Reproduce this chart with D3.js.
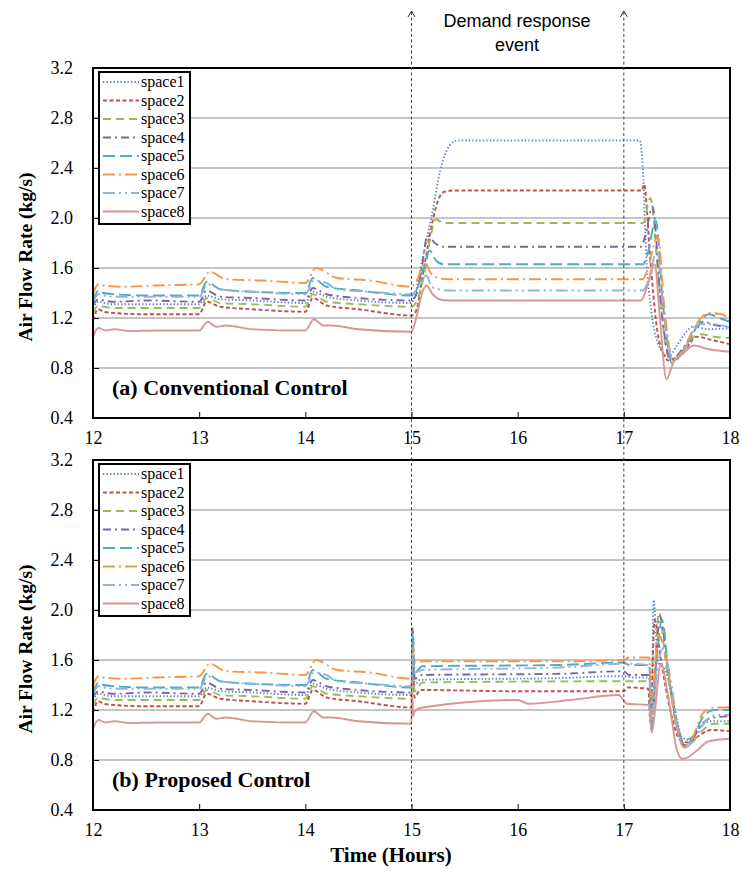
<!DOCTYPE html>
<html><head><meta charset="utf-8">
<script src="https://cdn.jsdelivr.net/npm/d3@7/dist/d3.min.js"></script>
<style>body{margin:0;background:#fff}svg{display:block}</style>
</head><body>
<svg id="c" width="742" height="872"></svg>
<script>
const spaces = ["space1","space2","space3","space4","space5","space6","space7","space8"];
const colors = ["#4F81BD","#C0504D","#9BBB59","#8064A2","#4BACC6","#F79646","#95B3D7","#D99694"];
const dashes = ["1.3,2.2","4,2.5","8,5","8,4,2,4","12,5","12,4,2,4","12,4,2,4,2,4",null];
const xTicks = [12,13,14,15,16,17,18];
const yTicks = [0.4,0.8,1.2,1.6,2.0,2.4,2.8,3.2];
const drStart = 15, drEnd = 17;

// Shared profile 12:00-15:00 (same in both panels) [time, kg/s]
const baseline = [
 [[12,1.28],[12.05,1.33],[12.1,1.32],[12.2,1.31],[12.5,1.31],[13,1.31],[13.07,1.38],[13.2,1.35],[13.5,1.34],[14,1.32],[14.07,1.41],[14.2,1.37],[14.5,1.34],[15,1.32]],
 [[12,1.18],[12.05,1.27],[12.1,1.25],[12.2,1.24],[12.5,1.23],[13,1.23],[13.07,1.33],[13.2,1.29],[13.5,1.27],[14,1.25],[14.07,1.36],[14.2,1.3],[14.5,1.27],[15,1.22]],
 [[12,1.24],[12.05,1.3],[12.1,1.29],[12.2,1.28],[12.5,1.28],[13,1.28],[13.07,1.36],[13.2,1.32],[13.5,1.31],[14,1.29],[14.07,1.39],[14.2,1.33],[14.5,1.31],[15,1.29]],
 [[12,1.3],[12.05,1.35],[12.1,1.34],[12.2,1.33],[12.5,1.34],[13,1.33],[13.07,1.42],[13.2,1.37],[13.5,1.36],[14,1.34],[14.07,1.44],[14.2,1.39],[14.5,1.36],[15,1.34]],
 [[12,1.33],[12.05,1.42],[12.1,1.4],[12.2,1.39],[12.5,1.38],[13,1.38],[13.07,1.49],[13.2,1.43],[13.5,1.41],[14,1.4],[14.07,1.52],[14.2,1.45],[14.5,1.42],[15,1.38]],
 [[12,1.39],[12.05,1.47],[12.1,1.46],[12.3,1.45],[12.6,1.46],[13,1.47],[13.1,1.57],[13.25,1.51],[13.6,1.5],[14,1.48],[14.1,1.6],[14.3,1.52],[14.6,1.5],[15,1.45]],
 [[12,1.32],[12.05,1.39],[12.1,1.38],[12.2,1.37],[12.5,1.37],[13,1.37],[13.08,1.47],[13.2,1.43],[13.5,1.41],[14,1.39],[14.08,1.5],[14.2,1.48],[14.3,1.43],[14.6,1.41],[15,1.39]],
 [[12,1.05],[12.05,1.12],[12.12,1.1],[12.2,1.11],[12.35,1.095],[12.6,1.1],[13,1.1],[13.08,1.17],[13.16,1.13],[13.25,1.14],[13.5,1.11],[14,1.1],[14.08,1.19],[14.17,1.14],[14.25,1.14],[14.5,1.11],[15,1.09]]
];

// (a) Conventional control, 15:00-18:00
const conventional = [
 [[15.03,1.38],[15.1,1.66],[15.2,2.06],[15.27,2.38],[15.36,2.58],[15.43,2.62],[17.15,2.62],[17.18,2.38],[17.21,1.72],[17.26,1.25],[17.33,0.98],[17.42,0.89],[17.5,0.98],[17.58,1.08],[17.65,1.13],[17.8,1.11],[18,1.12]],
 [[15.04,1.25],[15.12,1.61],[15.2,1.98],[15.25,2.14],[15.31,2.21],[15.4,2.22],[17.17,2.22],[17.19,2.27],[17.25,1.66],[17.31,1.13],[17.38,0.9],[17.42,0.86],[17.5,0.89],[17.6,0.97],[17.68,1.05],[17.85,1.02],[18,0.99]],
 [[15.04,1.32],[15.12,1.55],[15.18,1.85],[15.23,1.99],[15.3,1.96],[17.18,1.96],[17.25,2.16],[17.33,1.48],[17.39,1.0],[17.44,0.86],[17.52,0.9],[17.62,1.02],[17.72,1.07],[17.85,1.05],[18,1.04]],
 [[15.05,1.4],[15.1,1.62],[15.15,1.86],[15.22,1.8],[15.3,1.77],[17.16,1.77],[17.2,1.85],[17.27,2.09],[17.35,1.3],[17.42,0.9],[17.45,0.87],[17.55,0.95],[17.65,1.08],[17.75,1.17],[17.88,1.14],[18,1.13]],
 [[15.06,1.45],[15.12,1.62],[15.17,1.74],[15.23,1.66],[15.3,1.63],[17.18,1.63],[17.22,1.7],[17.3,1.98],[17.37,1.3],[17.42,0.95],[17.45,0.84],[17.55,0.92],[17.68,1.12],[17.8,1.23],[17.9,1.2],[18,1.17]],
 [[15.05,1.5],[15.13,1.64],[15.18,1.56],[15.25,1.52],[15.35,1.51],[17.18,1.51],[17.22,1.58],[17.32,1.85],[17.38,1.3],[17.43,0.95],[17.46,0.86],[17.56,0.95],[17.68,1.15],[17.8,1.24],[17.92,1.23],[18,1.19]],
 [[15.06,1.44],[15.14,1.54],[15.19,1.45],[15.26,1.43],[15.35,1.42],[17.18,1.42],[17.23,1.5],[17.31,1.73],[17.38,1.2],[17.44,0.9],[17.47,0.86],[17.57,0.94],[17.7,1.15],[17.85,1.15],[18,1.12]],
 [[15.05,1.22],[15.1,1.4],[15.14,1.46],[15.2,1.39],[15.26,1.35],[15.35,1.34],[17.16,1.34],[17.22,1.45],[17.29,1.63],[17.34,1.2],[17.4,0.71],[17.47,0.85],[17.55,0.91],[17.66,0.98],[17.8,0.95],[18,0.93]]
];

// (b) Proposed control, 15:00-18:00
const proposed = [
 [[15.01,1.65],[15.03,1.4],[15.08,1.44],[15.3,1.445],[16.4,1.455],[16.9,1.47],[17,1.47],[17.1,1.46],[17.24,1.46],[17.26,1.1],[17.28,2.08],[17.32,1.6],[17.4,1.5],[17.48,1.2],[17.55,0.98],[17.62,0.96],[17.7,1.05],[17.82,1.11],[18,1.11]],
 [[15.01,1.55],[15.03,1.3],[15.08,1.36],[16,1.35],[16.5,1.35],[17,1.35],[17.04,1.38],[17.23,1.37],[17.25,1.1],[17.29,1.92],[17.35,1.6],[17.45,1.15],[17.53,0.96],[17.6,0.94],[17.7,0.99],[17.82,1.04],[18,1.03]],
 [[15.01,1.6],[15.03,1.35],[15.1,1.42],[17,1.43],[17.24,1.43],[17.26,1.08],[17.33,1.98],[17.4,1.55],[17.5,1.1],[17.57,0.92],[17.63,0.93],[17.72,1.02],[17.85,1.09],[18,1.09]],
 [[15.01,1.86],[15.03,1.45],[15.1,1.48],[16.4,1.49],[17,1.51],[17.05,1.48],[17.24,1.48],[17.26,1.1],[17.34,1.95],[17.42,1.5],[17.5,1.1],[17.57,0.92],[17.63,0.95],[17.75,1.1],[17.85,1.14],[18,1.15]],
 [[15.01,1.8],[15.03,1.5],[15.1,1.55],[16.4,1.56],[17,1.58],[17.05,1.56],[17.24,1.56],[17.26,1.02],[17.3,1.5],[17.36,1.92],[17.42,1.5],[17.5,1.05],[17.56,0.96],[17.64,0.98],[17.75,1.15],[17.85,1.2],[18,1.2]],
 [[15.01,1.7],[15.03,1.58],[15.1,1.59],[16.4,1.59],[17,1.6],[17.05,1.62],[17.24,1.62],[17.26,1.3],[17.33,1.8],[17.4,1.6],[17.5,1.05],[17.57,0.9],[17.63,0.95],[17.75,1.18],[17.85,1.22],[18,1.22]],
 [[15.01,1.65],[15.03,1.5],[15.1,1.52],[16.4,1.54],[17,1.57],[17.05,1.57],[17.24,1.56],[17.26,1.08],[17.31,1.5],[17.37,1.69],[17.44,1.45],[17.52,1.0],[17.58,0.9],[17.65,0.95],[17.78,1.12],[17.88,1.16],[18,1.16]],
 [[15.005,1.45],[15.015,1.15],[15.03,1.19],[15.1,1.22],[16,1.28],[16.1,1.25],[16.5,1.28],[16.95,1.32],[17.03,1.25],[17.24,1.24],[17.26,1.02],[17.35,1.57],[17.42,1.3],[17.5,0.88],[17.55,0.81],[17.6,0.82],[17.68,0.87],[17.8,0.95],[18,0.97]]
];

const svg = d3.select("#c");
const L = 93, R = 730;
const x = d3.scaleLinear().domain([12,18]).range([L,R]);
const panels = [
  {top:68, bottom:418, data:conventional, label:"(a) Conventional Control", legTop:72},
  {top:460, bottom:810, data:proposed, label:"(b) Proposed Control", legTop:464}
];
const serif = "'Liberation Serif','Times New Roman',serif";

panels.forEach((p,pi)=>{
  const y = d3.scaleLinear().domain([0.4,3.2]).range([p.bottom,p.top]);
  const g = svg.append("g");
  g.selectAll(".grid").data(yTicks.slice(1,-1)).join("line")
    .attr("x1",L).attr("x2",R).attr("y1",d=>y(d)).attr("y2",d=>y(d))
    .attr("stroke","#8c8c8c").attr("stroke-width",1.2);
  const ya = d3.axisLeft(y).tickValues(yTicks).tickFormat(d3.format(".1f")).tickSize(-6).tickPadding(20);
  const yg = g.append("g").attr("transform",`translate(${L},0)`).call(ya);
  yg.select(".domain").remove();
  yg.selectAll("line").attr("stroke","#000");
  yg.selectAll("text").attr("font-family",serif).attr("font-size",18).attr("fill","#000");
  const xa = d3.axisBottom(x).tickValues(xTicks).tickFormat(d3.format("d")).tickSize(-6).tickPadding(13);
  const xg = g.append("g").attr("transform",`translate(0,${p.bottom})`).call(xa);
  xg.select(".domain").remove();
  xg.selectAll("line").attr("stroke","#000");
  xg.selectAll("text").attr("font-family",serif).attr("font-size",18).attr("fill","#000");

  const line = d3.line().x(d=>x(d[0])).y(d=>y(d[1])).curve(d3.curveMonotoneX);
  const clipId = "clip"+pi;
  svg.append("clipPath").attr("id",clipId).append("rect")
    .attr("x",L).attr("y",p.top).attr("width",R-L).attr("height",p.bottom-p.top);
  const lg = g.append("g").attr("clip-path",`url(#${clipId})`);
  spaces.forEach((s,i)=>{
    const pts = baseline[i].concat(p.data[i]);
    lg.append("path").attr("d",line(pts)).attr("fill","none")
      .attr("stroke",colors[i]).attr("stroke-width",1.9)
      .attr("stroke-dasharray",dashes[i]);
  });
  g.append("rect").attr("x",L).attr("y",p.top).attr("width",R-L).attr("height",p.bottom-p.top)
    .attr("fill","none").attr("stroke","#000").attr("stroke-width",2);
  const lh = 18.5;
  const leg = g.append("g");
  leg.append("rect").attr("x",99).attr("y",p.legTop).attr("width",91).attr("height",lh*8+4)
    .attr("fill","#fff").attr("stroke","#000").attr("stroke-width",2);
  spaces.forEach((s,i)=>{
    const yy = p.legTop + 10 + i*lh;
    leg.append("line").attr("x1",103).attr("x2",139).attr("y1",yy).attr("y2",yy)
      .attr("stroke",colors[i]).attr("stroke-width",1.8).attr("stroke-dasharray",dashes[i]);
    leg.append("text").attr("x",141).attr("y",yy+5).text(s)
      .attr("font-family",serif).attr("font-size",16).attr("fill","#000");
  });
  g.append("text").attr("x",112).attr("y",p.bottom-23).text(p.label)
    .attr("font-family",serif).attr("font-weight","bold").attr("font-size",22).attr("fill","#000");
  g.append("text").attr("transform",`translate(32,${(p.top+p.bottom)/2+14}) rotate(-90)`)
    .attr("text-anchor","middle").text("Air Flow Rate (kg/s)")
    .attr("font-family",serif).attr("font-weight","bold").attr("font-size",19.5).attr("fill","#000");
});

[drStart, drEnd].forEach(t=>{
  const xx = x(t);
  svg.append("line").attr("x1",xx).attr("x2",xx).attr("y1",12).attr("y2",810)
    .attr("stroke","#444").attr("stroke-width",1).attr("stroke-dasharray","3,2.5");
  svg.append("path").attr("d",`M${xx-3.5},${17}L${xx},${11}L${xx+3.5},${17}`)
    .attr("fill","none").attr("stroke","#333").attr("stroke-width",1);
});
svg.append("text").attr("x",517).attr("y",27).attr("text-anchor","middle").text("Demand response")
  .attr("font-family","'Liberation Sans',Arial,sans-serif").attr("font-size",18).attr("fill","#000");
svg.append("text").attr("x",517).attr("y",51).attr("text-anchor","middle").text("event")
  .attr("font-family","'Liberation Sans',Arial,sans-serif").attr("font-size",18).attr("fill","#000");
svg.append("text").attr("x",391).attr("y",862).attr("text-anchor","middle").text("Time (Hours)")
  .attr("font-family",serif).attr("font-weight","bold").attr("font-size",21).attr("fill","#000");
</script>
</body></html>
